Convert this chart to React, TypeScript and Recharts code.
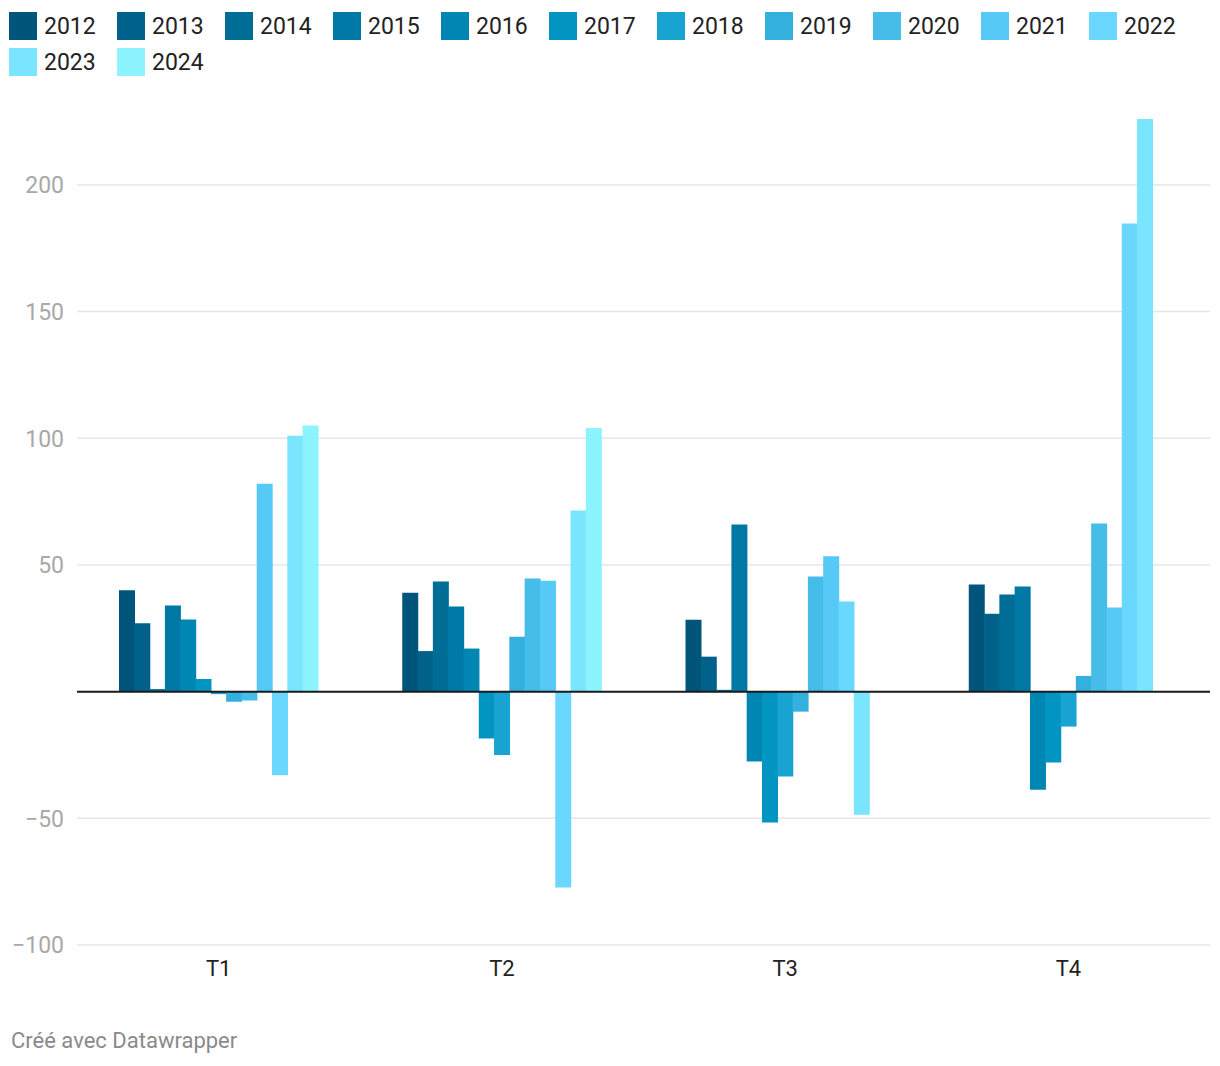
import React from "react";
import { Bar, BarChart, CartesianGrid, ReferenceLine, XAxis, YAxis } from "recharts";

// quarters on the x axis
const quarters = ["T1", "T2", "T3", "T4"];

const years = ["2012", "2013", "2014", "2015", "2016", "2017", "2018", "2019", "2020", "2021", "2022", "2023", "2024"];

// one value per quarter (T1..T4), null where the year has no data
const v2012 = [40, 39, 28.4, 42.3];
const v2013 = [27, 16, 13.8, 30.7];
const v2014 = [1, 43.5, 0.7, 38.3];
const v2015 = [34, 33.6, 66, 41.5];
const v2016 = [28.5, 17, -27.6, -38.7];
const v2017 = [5, -18.5, -51.7, -28];
const v2018 = [-1, -25, -33.5, -13.8];
const v2019 = [-4, 21.7, -7.9, 6.2];
const v2020 = [-3.5, 44.6, 45.4, 66.4];
const v2021 = [82, 43.8, 53.4, 33.2];
const v2022 = [-33, -77.3, 35.6, 184.8];
const v2023 = [101, 71.5, -48.6, 226];
const v2024 = [105, 104, null, null];

const seriesValues = [v2012, v2013, v2014, v2015, v2016, v2017, v2018, v2019, v2020, v2021, v2022, v2023, v2024];

const colors = [
  "#01557a", "#00628a", "#006d96", "#0078a5", "#0086b3", "#0395c2", "#19a3d1",
  "#33b0dd", "#46bce8", "#57c9f7", "#69d7ff", "#79e5ff", "#8bf4ff",
];

const yTicks = [-100, -50, 0, 50, 100, 150, 200];
const gridValues = [-100, -50, 50, 100, 150, 200];

const data = quarters.map((q, i) => {
  const row: Record<string, string | number | null> = { quarter: q };
  years.forEach((y, j) => {
    row[y] = seriesValues[j][i];
  });
  return row;
});

const FONT = "Roboto, 'Noto Sans', sans-serif";

// y labels: zero is not labelled, negatives use a real minus sign
function YTick({ x, y, payload }: any) {
  if (payload.value === 0) return null;
  const label = payload.value < 0 ? `−${Math.abs(payload.value)}` : String(payload.value);
  return (
    <text x={x} y={y} dy="0.36em" textAnchor="end" fill="#a8a8a8" fontSize={23} fontFamily={FONT}>
      {label}
    </text>
  );
}

function Legend() {
  return (
    <div style={{ position: "absolute", left: 9, top: 12, width: 1200, display: "flex", flexWrap: "wrap", rowGap: 8 }}>
      {years.map((y, i) => (
        <div key={y} style={{ width: 108, height: 28, display: "flex", alignItems: "center" }}>
          <span style={{ width: 28, height: 28, background: colors[i], display: "inline-block", flexShrink: 0 }} />
          <span style={{ marginLeft: 7, fontSize: 23, color: "#222", fontFamily: FONT }}>{y}</span>
        </div>
      ))}
    </div>
  );
}

export default function App() {
  return (
    <div style={{ position: "absolute", left: 0, top: 0, width: 1220, height: 1066, background: "#fff", fontFamily: FONT }}>
      <Legend />
      <div style={{ position: "absolute", left: 0, top: 0 }}>
        <BarChart
          width={1220}
          height={1000}
          data={data}
          margin={{ top: 119, right: 10, left: 0, bottom: 15 }}
          barSize={16}
          barGap={-0.7}
        >
          <CartesianGrid vertical={false} horizontalValues={gridValues} stroke="#e6e6e6" strokeWidth={1.5} />
          <XAxis
            dataKey="quarter"
            axisLine={false}
            tickLine={false}
            height={40}
            tickMargin={9}
            tick={{ fill: "#222", fontSize: 22, fontFamily: FONT }}
          />
          <YAxis
            width={77}
            domain={[-100, 226]}
            ticks={yTicks}
            axisLine={false}
            tickLine={false}
            tickMargin={7}
            tick={<YTick />}
            allowDataOverflow
          />
          {years.map((y, i) => (
            <Bar key={y} dataKey={y} fill={colors[i]} isAnimationActive={false} />
          ))}
          <ReferenceLine y={0} stroke="#1a1a1a" strokeWidth={2} />
        </BarChart>
      </div>
      <div style={{ position: "absolute", left: 11, top: 1028, fontSize: 22, color: "#8a8a8a", fontFamily: FONT }}>
        Créé avec Datawrapper
      </div>
    </div>
  );
}
